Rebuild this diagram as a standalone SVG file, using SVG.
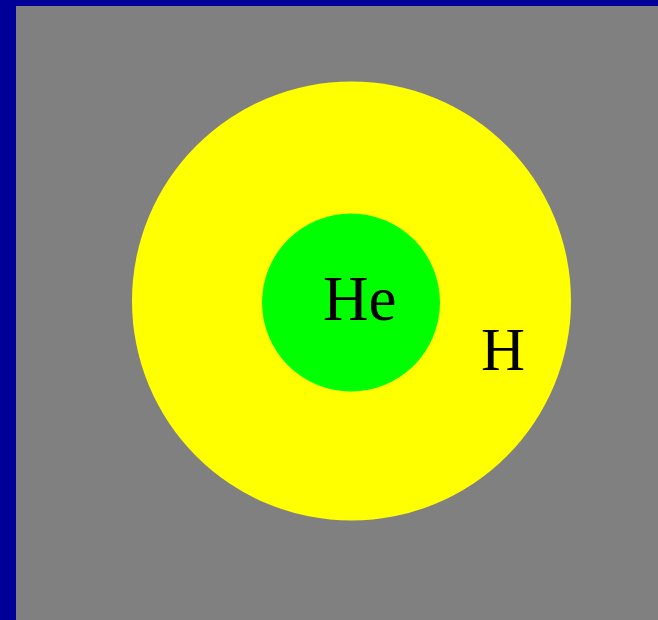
<svg xmlns="http://www.w3.org/2000/svg" width="658" height="620" viewBox="0 0 658 620">
<style>
.lbl{font-family:"Liberation Serif","Times New Roman",serif;fill:#000}
</style>
<rect x="0" y="0" width="658" height="620" fill="#000099"/>
<rect x="16" y="6" width="642" height="614" fill="#808080"/>
<g id="hydrogen">
<circle cx="351.5" cy="301" r="219.5" fill="#ffff00"/>
<text class="lbl" x="481" y="370" font-size="61">H</text>
</g>
<g id="helium">
<circle cx="351" cy="302.5" r="89" fill="#00ff00"/>
<text class="lbl" x="323" y="320" font-size="63">He</text>
</g>
<g id="connectors"/>
</svg>
